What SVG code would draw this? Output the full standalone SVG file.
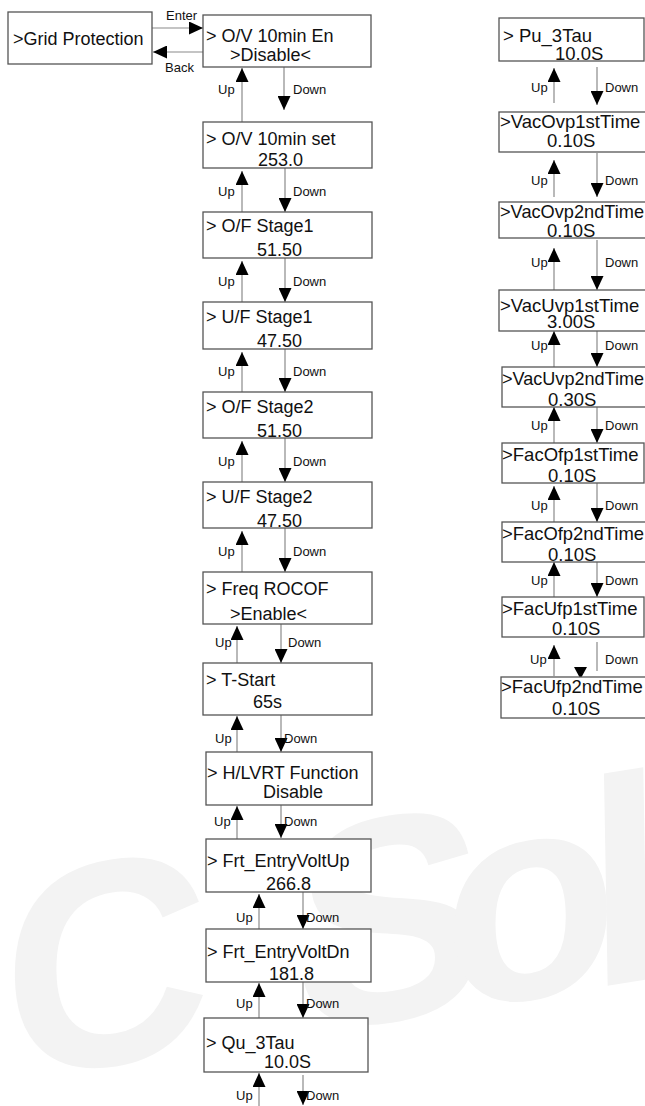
<svg xmlns="http://www.w3.org/2000/svg" width="645" height="1106" viewBox="0 0 645 1106">
<defs>
<style>
.bx{fill:#fff;stroke:#555;stroke-width:1.3}
.t{font-family:"Liberation Sans",Arial,sans-serif;font-size:18px;fill:#111}
.tr{font-family:"Liberation Sans",Arial,sans-serif;font-size:18.5px;fill:#111}
.lb{font-family:"Liberation Sans",Arial,sans-serif;font-size:13px;fill:#111}
.ln{stroke:#8a8a8a;stroke-width:1.2;fill:none;marker-end:url(#ah)}
.ln0{stroke:#8a8a8a;stroke-width:1.2;fill:none}
.wm{font-family:"Liberation Sans",Arial,sans-serif;font-size:290px;font-weight:bold;fill:#f3f3f3}
</style>
<marker id="ah" markerUnits="userSpaceOnUse" markerWidth="14" markerHeight="13" refX="14" refY="6.5" orient="auto" viewBox="0 0 14 13">
<path d="M0,0 L14,6.5 L0,13 z" fill="#000"/>
</marker>
</defs>
<rect width="645" height="1106" fill="#fff"/>
<text class="wm" x="-235 5 300 450 595" y="0" transform="translate(0 1082) rotate(-9) skewX(-8)">SCSol</text>

<g id="connectors">
<path class="ln" d="M152,28 H203"/>
<path class="ln" d="M203,52 H153"/>
<path class="ln" d="M242,122 V68"/><path class="ln" d="M284,67 V110"/>
<path class="ln" d="M242,212 V171"/><path class="ln" d="M285,168 V212"/>
<path class="ln" d="M242,302 V261"/><path class="ln" d="M285,258 V302"/>
<path class="ln" d="M242,392 V352"/><path class="ln" d="M285,349 V392"/>
<path class="ln" d="M242,482 V441"/><path class="ln" d="M285,438 V482"/>
<path class="ln" d="M242,572 V531"/><path class="ln" d="M285,528 V572"/>
<path class="ln" d="M237,663 V626"/><path class="ln" d="M281,624 V663"/>
<path class="ln" d="M237,752 V716"/><path class="ln" d="M281,715 V752"/>
<path class="ln" d="M237,839 V806"/><path class="ln" d="M281,805 V838"/>
<path class="ln" d="M259,929 V894"/><path class="ln" d="M303,892 V929"/>
<path class="ln" d="M259,1018 V983"/><path class="ln" d="M303,982 V1018"/>
<path class="ln" d="M259,1106 V1073"/><path class="ln" d="M303,1075 V1105"/>
<path class="ln" d="M554,103 V68"/><path class="ln" d="M597,67 V105"/>
<path class="ln" d="M554,197 V160"/><path class="ln" d="M597,153 V197"/>
<path class="ln" d="M554,290 V248"/><path class="ln" d="M597,240 V290"/>
<path class="ln" d="M554,367 V331"/><path class="ln" d="M597,331 V367"/>
<path class="ln" d="M554,443 V407"/><path class="ln" d="M597,407 V443"/>
<path class="ln" d="M554,522 V486"/><path class="ln" d="M597,483 V522"/>
<path class="ln" d="M554,597 V562"/><path class="ln" d="M597,562 V597"/>
<path class="ln" d="M554,676 V645"/><path class="ln0" d="M597,642 V671"/>
<path d="M574,667 L587,667 L580.5,679 z" fill="#000"/>
</g>

<g id="labels">
<text class="lb" x="166" y="20">Enter</text>
<text class="lb" x="165" y="72">Back</text>
<text class="lb" x="218" y="94">Up</text><text class="lb" x="293" y="94">Down</text>
<text class="lb" x="218" y="196">Up</text><text class="lb" x="293" y="196">Down</text>
<text class="lb" x="218" y="286">Up</text><text class="lb" x="293" y="286">Down</text>
<text class="lb" x="218" y="376">Up</text><text class="lb" x="293" y="376">Down</text>
<text class="lb" x="218" y="466">Up</text><text class="lb" x="293" y="466">Down</text>
<text class="lb" x="218" y="556">Up</text><text class="lb" x="293" y="556">Down</text>
<text class="lb" x="215" y="647">Up</text><text class="lb" x="288" y="647">Down</text>
<text class="lb" x="215" y="743">Up</text><text class="lb" x="284" y="743">Down</text>
<text class="lb" x="214" y="826">Up</text><text class="lb" x="284" y="826">Down</text>
<text class="lb" x="236" y="922">Up</text><text class="lb" x="306" y="922">Down</text>
<text class="lb" x="236" y="1008">Up</text><text class="lb" x="306" y="1008">Down</text>
<text class="lb" x="236" y="1100">Up</text><text class="lb" x="306" y="1100">Down</text>
<text class="lb" x="531" y="92">Up</text><text class="lb" x="605" y="92">Down</text>
<text class="lb" x="531" y="185">Up</text><text class="lb" x="605" y="185">Down</text>
<text class="lb" x="531" y="267">Up</text><text class="lb" x="605" y="267">Down</text>
<text class="lb" x="531" y="350">Up</text><text class="lb" x="605" y="350">Down</text>
<text class="lb" x="531" y="430">Up</text><text class="lb" x="605" y="430">Down</text>
<text class="lb" x="531" y="510">Up</text><text class="lb" x="605" y="510">Down</text>
<text class="lb" x="531" y="585">Up</text><text class="lb" x="605" y="585">Down</text>
<text class="lb" x="530" y="664">Up</text><text class="lb" x="605" y="664">Down</text>
</g>

<g id="n-grid"><rect class="bx" x="8" y="12" width="144" height="52"/><text class="t" x="13" y="45">&gt;Grid Protection</text></g>

<g id="n-ov10en"><rect class="bx" x="203" y="15" width="168" height="52"/><text class="t" x="206" y="42">&gt; O/V 10min En</text><text class="t" x="230" y="61">&gt;Disable&lt;</text></g>
<g id="n-ov10set"><rect class="bx" x="203" y="122" width="169" height="46"/><text class="t" x="206" y="145">&gt; O/V 10min set</text><text class="t" x="258" y="166">253.0</text></g>
<g id="n-of1"><rect class="bx" x="203" y="212" width="169" height="46"/><text class="t" x="206" y="232">&gt; O/F Stage1</text><text class="t" x="257" y="256">51.50</text></g>
<g id="n-uf1"><rect class="bx" x="203" y="302" width="169" height="47"/><text class="t" x="206" y="323">&gt; U/F Stage1</text><text class="t" x="257" y="347">47.50</text></g>
<g id="n-of2"><rect class="bx" x="203" y="392" width="169" height="46"/><text class="t" x="206" y="413">&gt; O/F Stage2</text><text class="t" x="257" y="437">51.50</text></g>
<g id="n-uf2"><rect class="bx" x="203" y="482" width="169" height="46"/><text class="t" x="206" y="503">&gt; U/F Stage2</text><text class="t" x="257" y="527">47.50</text></g>
<g id="n-rocof"><rect class="bx" x="203" y="572" width="169" height="52"/><text class="t" x="206" y="595">&gt; Freq ROCOF</text><text class="t" x="230" y="620">&gt;Enable&lt;</text></g>
<g id="n-tstart"><rect class="bx" x="203" y="663" width="169" height="52"/><text class="t" x="206" y="686">&gt; T-Start</text><text class="t" x="253" y="708">65s</text></g>
<g id="n-hlvrt"><rect class="bx" x="206" y="752" width="166" height="53"/><text class="t" x="207" y="779">&gt; H/LVRT Function</text><text class="t" x="263" y="798">Disable</text></g>
<g id="n-frtup"><rect class="bx" x="206" y="839" width="165" height="53"/><text class="t" x="207" y="867">&gt; Frt_EntryVoltUp</text><text class="t" x="266" y="890">266.8</text></g>
<g id="n-frtdn"><rect class="bx" x="206" y="929" width="165" height="53"/><text class="t" x="207" y="958">&gt; Frt_EntryVoltDn</text><text class="t" x="269" y="980">181.8</text></g>
<g id="n-qu3tau"><rect class="bx" x="204" y="1018" width="164" height="54"/><text class="t" x="206" y="1049">&gt; Qu_3Tau</text><text class="t" x="264" y="1068">10.0S</text></g>

<g id="n-pu3tau"><rect class="bx" x="499" y="18" width="145" height="43"/><text class="tr" x="503" y="42">&gt; Pu_3Tau</text><text class="tr" x="555" y="60">10.0S</text></g>
<g id="n-vovp1"><rect class="bx" x="499" y="112" width="150" height="40"/><text class="tr" x="500" y="128">&gt;VacOvp1stTime</text><text class="tr" x="547" y="147">0.10S</text></g>
<g id="n-vovp2"><rect class="bx" x="499" y="202" width="150" height="36"/><text class="tr" x="500" y="218" textLength="144" lengthAdjust="spacingAndGlyphs">&gt;VacOvp2ndTime</text><text class="tr" x="547" y="237">0.10S</text></g>
<g id="n-vuvp1"><rect class="bx" x="499" y="290" width="150" height="41"/><text class="tr" x="500" y="312">&gt;VacUvp1stTime</text><text class="tr" x="547" y="328">3.00S</text></g>
<g id="n-vuvp2"><rect class="bx" x="502" y="367" width="147" height="40"/><text class="tr" x="502" y="385" textLength="142" lengthAdjust="spacingAndGlyphs">&gt;VacUvp2ndTime</text><text class="tr" x="548" y="406">0.30S</text></g>
<g id="n-fofp1"><rect class="bx" x="502" y="443" width="142" height="40"/><text class="tr" x="502" y="461">&gt;FacOfp1stTime</text><text class="tr" x="548" y="482">0.10S</text></g>
<g id="n-fofp2"><rect class="bx" x="502" y="522" width="147" height="40"/><text class="tr" x="502" y="540" textLength="142" lengthAdjust="spacingAndGlyphs">&gt;FacOfp2ndTime</text><text class="tr" x="548" y="561">0.10S</text></g>
<g id="n-fufp1"><rect class="bx" x="502" y="597" width="142" height="40"/><text class="tr" x="502" y="615">&gt;FacUfp1stTime</text><text class="tr" x="552" y="635">0.10S</text></g>
<g id="n-fufp2"><rect class="bx" x="501" y="677" width="148" height="41"/><text class="tr" x="501" y="693">&gt;FacUfp2ndTime</text><text class="tr" x="552" y="715">0.10S</text></g>
</svg>
